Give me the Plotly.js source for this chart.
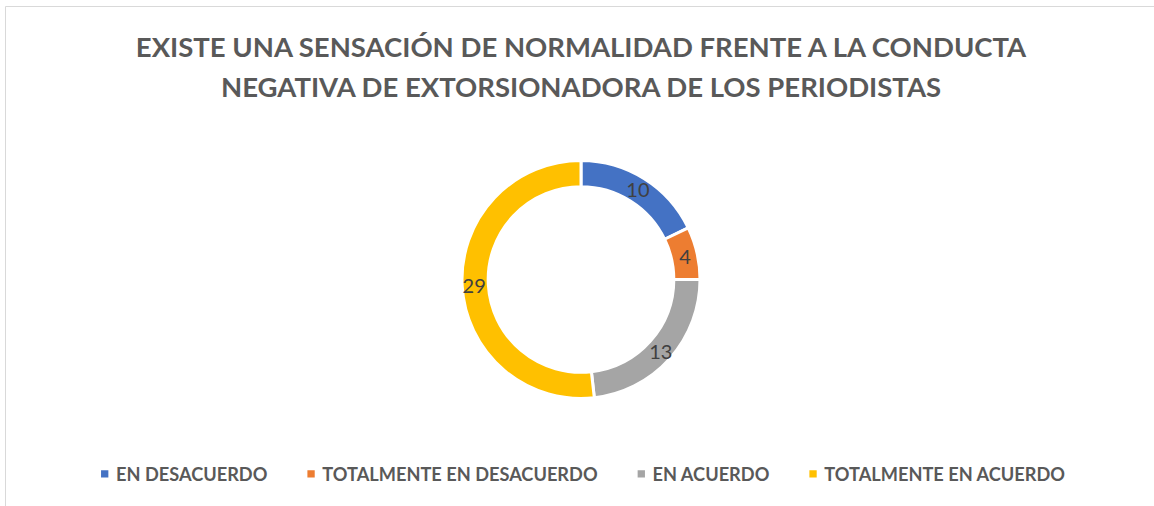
<!DOCTYPE html>
<html>
<head>
<meta charset="utf-8">
<script src="https://cdn.plot.ly/plotly-3.0.1.min.js"></script>
<style>
html,body{margin:0;padding:0;background:#fff;}
#chart{width:1154px;height:506px;}
</style>
</head>
<body>
<div id="chart"></div>
<script>
const categories = ["EN DESACUERDO", "TOTALMENTE EN DESACUERDO", "EN ACUERDO", "TOTALMENTE EN ACUERDO"];
const values = [10, 4, 13, 29];
const colors = ["#4472C4", "#ED7D31", "#A5A5A5", "#FFC000"];
const titleLine1 = "EXISTE UNA SENSACIÓN DE NORMALIDAD FRENTE A LA CONDUCTA";
const titleLine2 = "NEGATIVA DE EXTORSIONADORA DE LOS PERIODISTAS";

const W = 1154, H = 506;
const cx = 581, cy = 279.5, R = 119;
const RL = 126; // label ring radius

function dom(r) {
  return {x: [(cx - r) / W, (cx + r) / W], y: [(H - cy - r) / H, (H - cy + r) / H]};
}

const ring = {
  type: "pie",
  labels: categories,
  values: values,
  sort: false,
  direction: "clockwise",
  rotation: 0,
  hole: 0.78,
  marker: {colors: colors, line: {color: "#ffffff", width: 3}},
  textinfo: "none",
  hoverinfo: "label+value+percent",
  domain: dom(R)
};

const labelsRing = {
  type: "pie",
  labels: categories,
  values: values,
  sort: false,
  direction: "clockwise",
  rotation: 0,
  hole: 88 / RL,
  marker: {colors: ["rgba(0,0,0,0)", "rgba(0,0,0,0)", "rgba(0,0,0,0)", "rgba(0,0,0,0)"], line: {width: 0}},
  textinfo: "value",
  textposition: "inside",
  insidetextorientation: "horizontal",
  insidetextfont: {family: "Lato, sans-serif", size: 20, color: "#404040"},
  hoverinfo: "skip",
  showlegend: false,
  domain: dom(RL)
};

const layout = {
  width: W, height: H,
  margin: {l: 0, r: 0, t: 0, b: 0},
  paper_bgcolor: "#ffffff",
  plot_bgcolor: "#ffffff",
  title: {
    text: titleLine1,
    font: {family: "Lato, sans-serif", size: 27.5, color: "#595959", weight: "bold"},
    x: 581 / W, xanchor: "center",
    y: 1 - 47 / H, yanchor: "middle",
    xref: "paper", yref: "container"
  },
  annotations: [{
    text: titleLine2,
    font: {family: "Lato, sans-serif", size: 27.5, color: "#595959", weight: "bold"},
    xref: "paper", yref: "paper",
    x: 581 / W, xanchor: "center",
    y: 1 - 86 / H, yanchor: "middle",
    showarrow: false
  }],
  showlegend: true,
  legend: {
    orientation: "h",
    x: 66 / W, xanchor: "left",
    y: 1 - 474 / H, yanchor: "middle",
    itemwidth: 40,
    font: {family: "Lato, sans-serif", size: 18.2, color: "#595959", weight: "bold"},
    traceorder: "normal"
  },
  shapes: [
    {type: "line", xref: "paper", yref: "paper", x0: 5.5 / W, x1: 5.5 / W, y0: 0, y1: 1 - 6.5 / H, line: {color: "#d9d9d9", width: 1}},
    {type: "line", xref: "paper", yref: "paper", x0: 5.5 / W, x1: 1, y0: 1 - 6.5 / H, y1: 1 - 6.5 / H, line: {color: "#d9d9d9", width: 1}}
  ]
};

Plotly.newPlot("chart", [ring, labelsRing], layout, {displayModeBar: false, responsive: false}).then(function () {
  document.querySelectorAll("#chart g.traces").forEach(function (g) {
    const t = g.querySelector("text.legendtext");
    const p = g.querySelector(".legendpoints path");
    if (!t || !p) return;
    const tx = parseFloat(t.getAttribute("x")) || 50;
    p.setAttribute("transform", "translate(" + (tx - 11.3) + ",0) scale(0.61)");
    p.style.strokeWidth = "0";
  });
});
</script>
</body>
</html>
